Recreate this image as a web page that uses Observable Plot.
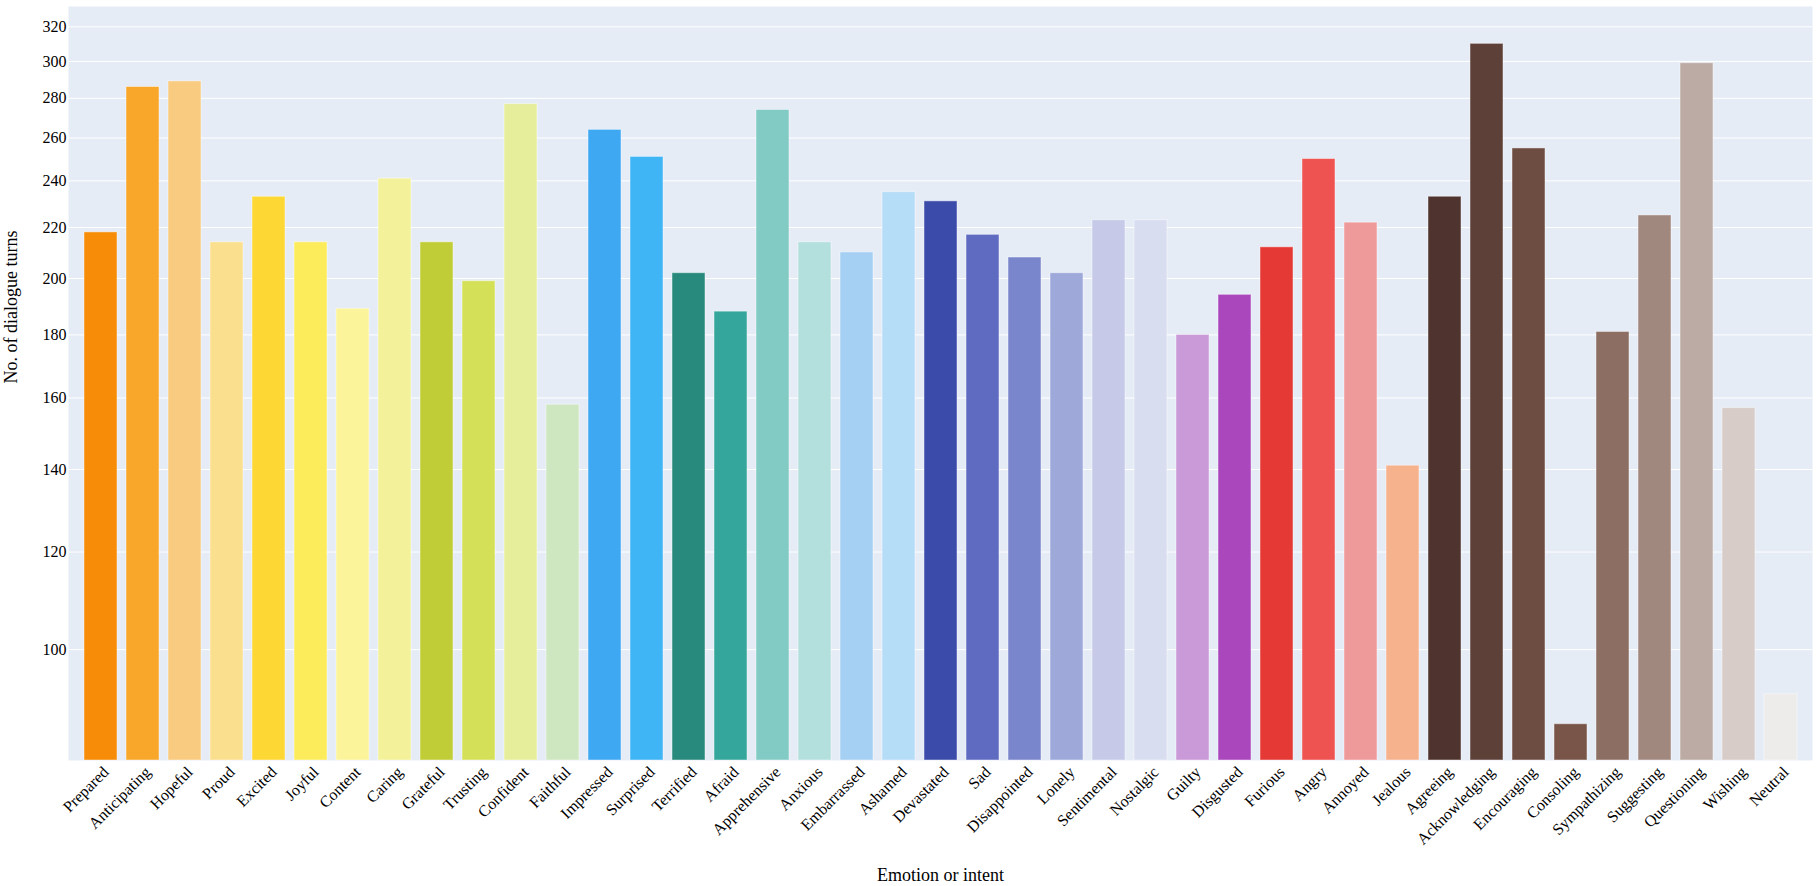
<!DOCTYPE html>
<html>
<head>
<meta charset="utf-8">
<script src="https://cdn.jsdelivr.net/npm/d3@7"></script>
<script src="https://cdn.jsdelivr.net/npm/@observablehq/plot@0.6"></script>
<style>
  html, body { margin: 0; padding: 0; background: #fff; }
  #chart svg { display: block; }
</style>
</head>
<body>
<div id="chart"></div>
<script>
const categories = ["Prepared","Anticipating","Hopeful","Proud","Excited","Joyful","Content","Caring","Grateful","Trusting","Confident","Faithful","Impressed","Surprised","Terrified","Afraid","Apprehensive","Anxious","Embarrassed","Ashamed","Devastated","Sad","Disappointed","Lonely","Sentimental","Nostalgic","Guilty","Disgusted","Furious","Angry","Annoyed","Jealous","Agreeing","Acknowledging","Encouraging","Consoling","Sympathizing","Suggesting","Questioning","Wishing","Neutral"];
const turns = [218,286,289,214,233,214,189,241,214,199,277,158,264,251,202,188,274,214,210,235,231,217,208,202,223,223,180,194,212,250,222,141,233,310,255,87,181,225,299,157,92];
const colors = ["#f68c07","#f8a72b","#f8cb80","#fadf8f","#fdd835","#fcec5b","#fcf49b","#f3f29b","#c1cd36","#d4e158","#e6ee9c","#cee7c0","#3ea8f3","#3fb5f5","#288a7d","#35a69b","#82cbc4","#b3dfdd","#a5d0f3","#b6ddf7","#3b4ba9","#5e6bc0","#7a86cb","#9ea9da","#c6cae8","#d9ddf0","#ca99d8","#ab47bc","#e43935","#ee5351","#ee9a9b","#f6b28d","#4e332e","#5d4037","#6d4d42","#785548","#8c6e63","#a1887f","#bcaaa4","#d7ccc8","#eeecea"];
const yTicks = [100,120,140,160,180,200,220,240,260,280,300,320];
const yDomain = [81.3, 332.4];
const xTitle = "Emotion or intent";
const yTitle = "No. of dialogue turns";

const data = categories.map((c, i) => ({name: c, value: turns[i], color: colors[i]}));

const chart = Plot.plot({
  width: 1818,
  height: 886,
  marginLeft: 68,
  marginRight: 6,
  marginTop: 6,
  marginBottom: 126,
  style: {fontFamily: "'Liberation Serif', 'Times New Roman', serif", fontSize: "16px", color: "#000", background: "#fff"},
  x: {domain: categories, padding: 0.22, label: null},
  y: {type: "log", domain: yDomain, label: null},
  marks: [
    Plot.frame({fill: "#e5ecf6", stroke: null}),
    Plot.ruleY(yTicks, {stroke: "#ffffff", strokeWidth: 1}),
    Plot.barY(data, {x: "name", y1: d => yDomain[0], y2: "value", fill: "color", stroke: "#ffffff", strokeOpacity: 0.45, strokeWidth: 1}),
    Plot.axisY({ticks: yTicks, tickFormat: d => String(d), tickSize: 0, tickPadding: 2, label: null, fontSize: 16}),
    Plot.axisX({tickSize: 0, tickPadding: 9, tickRotate: -45, label: null, fontSize: 16, dx: 5}),
    Plot.text([yTitle], {frameAnchor: "left", dx: -57, rotate: -90, fontSize: 18, lineAnchor: "middle"}),
    Plot.text([xTitle], {frameAnchor: "bottom", dy: 115, fontSize: 18, lineAnchor: "middle"})
  ]
});
document.getElementById("chart").appendChild(chart);
</script>
</body>
</html>
